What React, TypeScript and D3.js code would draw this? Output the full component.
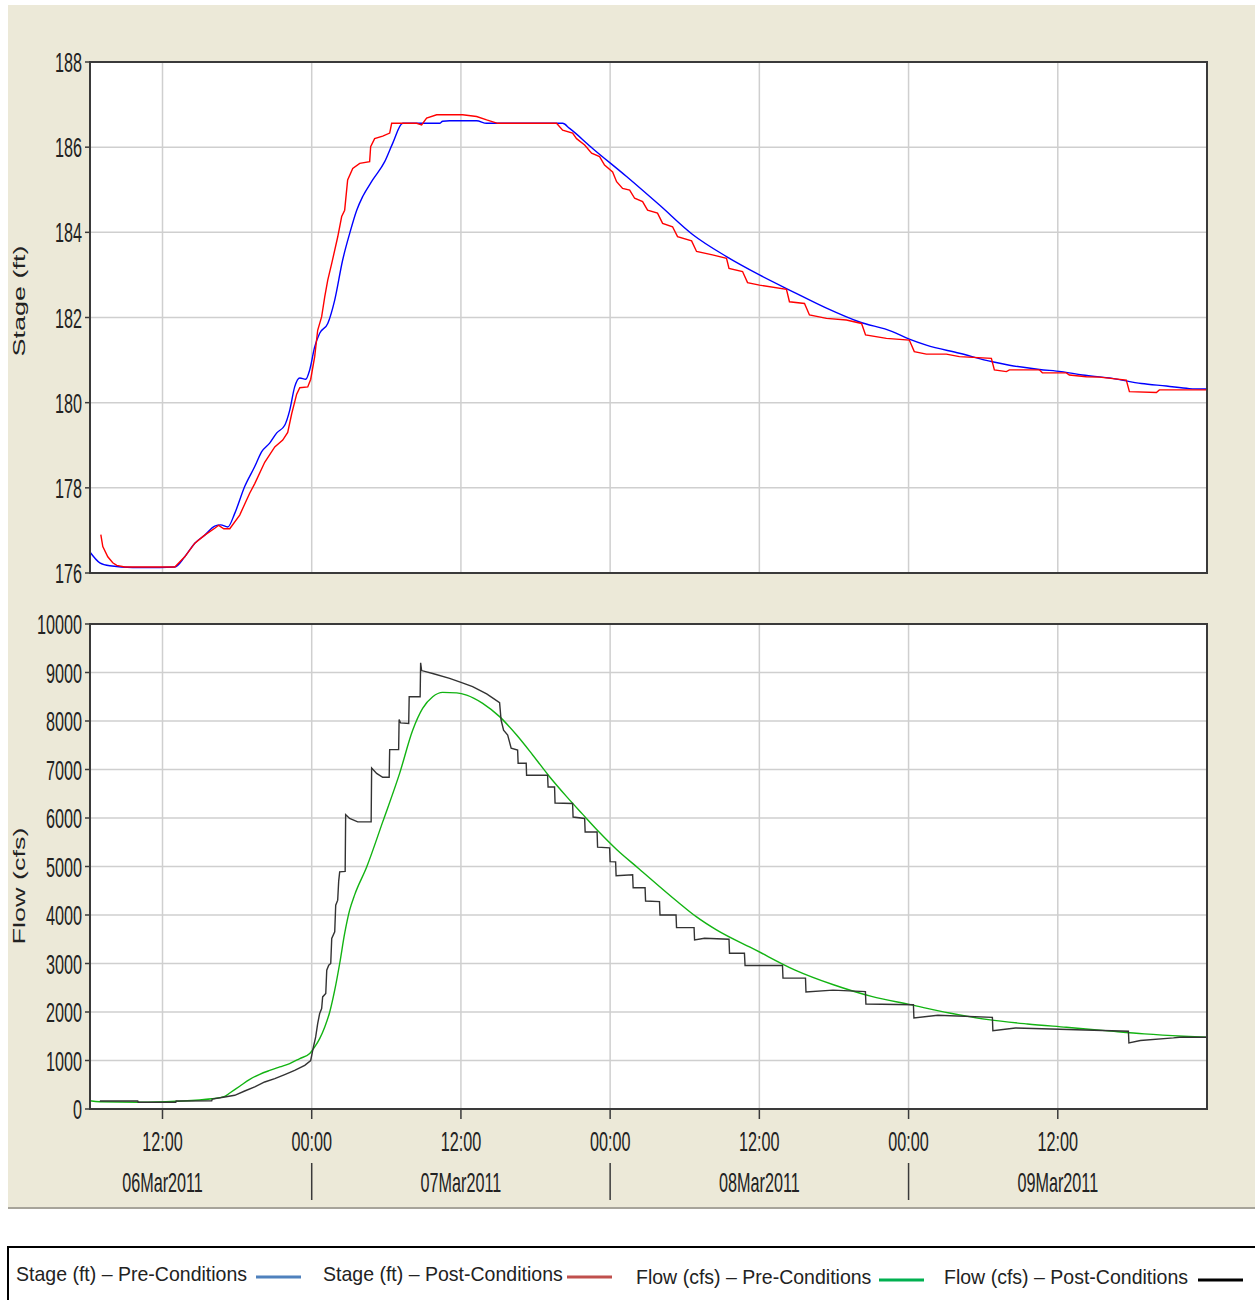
import React from 'react';
import * as d3 from 'd3';

// hours after 06Mar2011 00:00 -> value
const stagePre: [number, number][] = [
  [6.15, 176.5], [6.96, 176.24], [7.76, 176.17], [9.61, 176.13], [11.78, 176.13], [12.99, 176.14],
  [13.79, 176.38], [14.6, 176.7], [15.4, 176.89], [16.2, 177.1], [16.68, 177.13], [17.25, 177.08],
  [17.81, 177.4], [18.61, 178.03], [19.42, 178.5], [19.98, 178.85], [20.62, 179.05], [21.19, 179.29],
  [21.83, 179.47], [22.23, 179.82], [22.63, 180.37], [23.04, 180.58], [23.52, 180.55], [23.84, 180.77],
  [24.24, 181.31], [24.64, 181.63], [25.29, 181.86], [25.85, 182.41], [26.49, 183.35], [27.05, 183.97],
  [27.62, 184.52], [28.1, 184.84], [28.9, 185.23], [29.87, 185.66], [30.51, 186.09], [31.32, 186.56],
  [34.29, 186.56], [34.53, 186.61], [35.09, 186.62], [37.26, 186.62], [38.07, 186.56], [44.18, 186.56],
  [44.74, 186.44], [46.59, 185.97], [49.32, 185.31], [51.97, 184.64], [54.63, 183.95], [57.36, 183.43],
  [60.01, 183.0], [62.67, 182.61], [65.4, 182.22], [68.01, 181.9], [70.7, 181.67], [72.06, 181.49],
  [73.43, 181.35], [76.09, 181.16], [78.74, 180.96], [80.11, 180.88], [82.52, 180.78], [84.29, 180.73],
  [85.98, 180.65], [88.39, 180.57], [90.72, 180.45], [92.73, 180.39], [94.58, 180.33], [95.95, 180.32],
];

const stagePost: [number, number][] = [
  [7.04, 176.9], [7.2, 176.62], [7.6, 176.38], [8.0, 176.24], [8.32, 176.18], [8.97, 176.14],
  [12.99, 176.14], [13.79, 176.38], [14.6, 176.7], [15.4, 176.89], [16.2, 177.05], [16.52, 177.12],
  [16.93, 177.04], [17.41, 177.04], [18.21, 177.36], [19.02, 177.88], [19.42, 178.1], [20.22, 178.6],
  [21.03, 178.96], [21.67, 179.12], [22.07, 179.3], [22.39, 179.74], [22.79, 180.2], [23.04, 180.35],
  [23.68, 180.37], [23.92, 180.55], [24.24, 181.08], [24.48, 181.7], [24.8, 182.02], [25.05, 182.49],
  [25.29, 182.88], [25.61, 183.27], [26.09, 183.89], [26.41, 184.37], [26.65, 184.52], [26.89, 185.23],
  [27.3, 185.5], [27.86, 185.62], [28.66, 185.66], [28.74, 186.01], [29.06, 186.2], [29.71, 186.26],
  [30.27, 186.33], [30.43, 186.56], [32.44, 186.56], [32.84, 186.52], [33.24, 186.68], [34.05, 186.76],
  [36.14, 186.76], [37.26, 186.72], [38.07, 186.64], [38.95, 186.56], [43.69, 186.56], [44.18, 186.4],
  [44.98, 186.33], [45.3, 186.2], [45.95, 186.05], [46.51, 185.86], [47.15, 185.78], [47.55, 185.58],
  [48.2, 185.42], [48.52, 185.19], [49.0, 185.03], [49.57, 184.99], [49.97, 184.8], [50.61, 184.72],
  [51.01, 184.52], [51.81, 184.45], [52.22, 184.21], [53.02, 184.13], [53.42, 183.9], [54.55, 183.8],
  [54.95, 183.55], [56.23, 183.47], [57.36, 183.39], [57.56, 183.15], [58.65, 183.08], [59.05, 182.82],
  [60.01, 182.76], [62.18, 182.66], [62.42, 182.37], [63.63, 182.33], [64.03, 182.06], [65.4, 181.98],
  [67.0, 181.94], [68.22, 181.86], [68.54, 181.59], [70.22, 181.51], [72.06, 181.47], [72.46, 181.2],
  [73.43, 181.14], [75.04, 181.14], [76.09, 181.08], [78.66, 181.04], [78.9, 180.77], [79.87, 180.73],
  [80.11, 180.77], [82.52, 180.77], [82.76, 180.7], [84.69, 180.7], [84.93, 180.65], [86.3, 180.61],
  [87.35, 180.6], [89.51, 180.53], [89.76, 180.26], [91.93, 180.24], [92.17, 180.3], [95.95, 180.3],
];

const flowPre: [number, number][] = [
  [6.15, 170], [6.96, 150], [10.17, 140], [13.07, 160], [15.96, 210], [17.0, 260], [17.41, 330],
  [18.21, 470], [19.02, 610], [19.82, 715], [20.62, 795], [21.43, 867], [22.23, 937], [23.04, 1040],
  [23.84, 1143], [24.24, 1280], [24.64, 1452], [25.05, 1692], [25.45, 2001], [25.85, 2449], [26.25, 3000],
  [26.65, 3620], [27.05, 4100], [27.46, 4420], [28.42, 4990], [29.71, 5920], [31.07, 6920], [32.12, 7810],
  [32.92, 8260], [33.73, 8500], [34.53, 8590], [35.66, 8580], [36.46, 8535], [37.75, 8365], [39.11, 8090],
  [40.48, 7710], [41.77, 7300], [43.13, 6850], [44.5, 6440], [45.78, 6080], [47.15, 5700], [48.52, 5350],
  [50.29, 4960], [53.42, 4274], [54.95, 3960], [56.55, 3692], [59.68, 3281], [62.83, 2870], [65.96, 2562],
  [69.02, 2322], [72.15, 2151], [75.29, 1979], [78.42, 1842], [81.56, 1753], [84.69, 1685], [87.83, 1616],
  [90.96, 1548], [94.1, 1500], [95.95, 1479],
];

const flowPost: [number, number][] = [
  [6.96, 165], [10.01, 165], [10.05, 140], [13.07, 140], [13.1, 165], [15.96, 170], [16.0, 205],
  [17.0, 248], [17.81, 283], [18.61, 371], [19.42, 454], [20.22, 557], [21.03, 627], [21.83, 710],
  [22.63, 798], [23.44, 901], [23.92, 1000], [24.08, 1211], [24.32, 1486], [24.48, 1762], [24.64, 1968],
  [24.8, 2071], [24.88, 2311], [25.13, 2381], [25.21, 2862], [25.37, 2965], [25.53, 3000], [25.61, 3515],
  [25.85, 3652], [25.93, 4203], [26.09, 4306], [26.17, 4700], [26.25, 4890], [26.69, 4900], [26.73, 6070],
  [27.05, 5990], [27.7, 5920], [28.78, 5920], [28.82, 7030], [29.22, 6920], [29.71, 6840], [30.23, 6840],
  [30.27, 7410], [30.99, 7410], [31.03, 8030], [31.15, 7960], [31.8, 7950], [31.84, 8500], [32.72, 8500],
  [32.76, 9200], [32.84, 9040], [33.73, 8980], [35.09, 8880], [36.06, 8790], [36.94, 8710], [38.07, 8560],
  [39.11, 8380], [39.23, 8020], [39.43, 7810], [39.76, 7710], [40.04, 7440], [40.56, 7400], [40.6, 7130],
  [41.25, 7130], [41.28, 6880], [42.97, 6880], [43.01, 6640], [43.53, 6640], [43.57, 6310], [44.98, 6300],
  [45.02, 6020], [45.95, 5990], [45.99, 5710], [46.95, 5710], [46.99, 5400], [47.96, 5384], [48.0, 5100],
  [48.44, 5096], [48.48, 4808], [49.81, 4830], [49.85, 4562], [50.81, 4562], [50.85, 4288], [51.97, 4275],
  [52.01, 4000], [53.3, 4000], [53.34, 3740], [54.75, 3740], [54.79, 3486], [55.59, 3520], [57.56, 3500],
  [57.6, 3212], [58.8, 3212], [58.85, 2959], [61.86, 2959], [61.9, 2699], [63.71, 2699], [63.75, 2411],
  [65.92, 2452], [68.53, 2420], [68.57, 2164], [72.39, 2150], [72.43, 1877], [74.36, 1932], [78.74, 1890],
  [78.78, 1616], [80.59, 1671], [89.68, 1603], [89.72, 1363], [90.64, 1411], [93.3, 1466], [93.78, 1479],
  [95.95, 1479],
];

const stageTicks = [176, 178, 180, 182, 184, 186, 188];
const flowTicks = [0, 1000, 2000, 3000, 4000, 5000, 6000, 7000, 8000, 9000, 10000];
const timeTickHours = [12, 24, 36, 48, 60, 72, 84];
const dayLabelHours = [12, 36, 60, 84];
const daySepHours = [24, 48, 72];

const legendItems = [
  { label: 'Stage (ft) – Pre-Conditions', color: '#4f81bd', x: 16, lx: 256, y: 1281 },
  { label: 'Stage (ft) – Post-Conditions', color: '#c0504d', x: 323, lx: 567, y: 1281 },
  { label: 'Flow (cfs) – Pre-Conditions', color: '#00b050', x: 636, lx: 879, y: 1284 },
  { label: 'Flow (cfs) – Post-Conditions', color: '#000000', x: 944, lx: 1198, y: 1284 },
];

const base = new Date(2011, 2, 6, 0, 0).getTime();
const toDate = (h: number) => new Date(base + h * 3600e3);

const FONT = '"Liberation Sans", Arial, sans-serif';
const SX = 0.6;

const L = 90, R = 1207;
const top1 = 62, bot1 = 573;
const top2 = 624, bot2 = 1109;

const x = d3.scaleTime().domain([toDate(6.17), toDate(96)]).range([L, R]);
const yStage = d3.scaleLinear().domain([176, 188]).range([bot1, top1]);
const yFlow = d3.scaleLinear().domain([0, 10000]).range([bot2, top2]);

const lineGen = (y: d3.ScaleLinear<number, number>, smooth: boolean) =>
  d3.line<[number, number]>()
    .x(d => x(toDate(d[0])))
    .y(d => y(d[1]))
    .curve(smooth ? d3.curveMonotoneX : d3.curveLinear);

const fmtTime = d3.timeFormat('%H:%M');
const fmtDay = d3.timeFormat('%d%b%Y');

const Narrow = ({ x: tx, y: ty, anchor, children }: any) => (
  <text transform={`translate(${tx},${ty}) scale(${SX},1)`} textAnchor={anchor}
    fontFamily={FONT} fontSize={27} fill="#222">{children}</text>
);

const Panel = ({ y, ticks, top, bot, title, titleY, series }: any) => (
  <g>
    <rect x={L} y={top} width={R - L} height={bot - top} fill="#fff" />
    {ticks.map((t: number) => (
      <line key={'h' + t} x1={L} x2={R} y1={y(t)} y2={y(t)} stroke="#cfcfcf" strokeWidth={1.5} />
    ))}
    {timeTickHours.map(h => (
      <line key={'v' + h} x1={x(toDate(h))} x2={x(toDate(h))} y1={top} y2={bot} stroke="#cfcfcf" strokeWidth={1.5} />
    ))}
    {series.map((s: any, i: number) => (
      <path key={i} d={lineGen(y, s.smooth)(s.data) || ''} fill="none" stroke={s.color} strokeWidth={1.4} />
    ))}
    <rect x={L} y={top} width={R - L} height={bot - top} fill="none" stroke="#3a3a3a" strokeWidth={2} />
    {ticks.map((t: number) => (
      <g key={'t' + t}>
        <line x1={L - 5} x2={L} y1={y(t)} y2={y(t)} stroke="#3a3a3a" strokeWidth={1.5} />
        <Narrow x={82} y={y(t) + 10} anchor="end">{t}</Narrow>
      </g>
    ))}
    <text transform={`translate(25,${titleY}) rotate(-90) scale(1,0.58)`} textAnchor="middle"
      fontFamily={FONT} fontSize={27} fill="#222">{title}</text>
  </g>
);

export default function App() {
  return (
    <svg width={1255} height={1300} style={{ position: 'absolute', left: 0, top: 0, display: 'block' }}>
      <rect x={0} y={0} width={1255} height={1300} fill="#fff" />
      <rect x={8} y={5} width={1247} height={1203} fill="#ece9d8" />
      <line x1={8} x2={1255} y1={1208} y2={1208} stroke="#a7a49a" strokeWidth={2} />

      <Panel y={yStage} ticks={stageTicks} top={top1} bot={bot1} title="Stage (ft)" titleY={301}
        series={[{ data: stagePre, color: '#0000ff', smooth: true }, { data: stagePost, color: '#ff0000', smooth: false }]} />
      <Panel y={yFlow} ticks={flowTicks} top={top2} bot={bot2} title="Flow (cfs)" titleY={886}
        series={[{ data: flowPre, color: '#12b312', smooth: true }, { data: flowPost, color: '#333333', smooth: false }]} />

      {timeTickHours.map(h => (
        <g key={h}>
          <line x1={x(toDate(h))} x2={x(toDate(h))} y1={bot2} y2={bot2 + 10} stroke="#3a3a3a" strokeWidth={1.5} />
          <Narrow x={x(toDate(h))} y={1151} anchor="middle">{fmtTime(toDate(h))}</Narrow>
        </g>
      ))}
      {dayLabelHours.map(h => (
        <Narrow key={h} x={x(toDate(h))} y={1192} anchor="middle">{fmtDay(toDate(h))}</Narrow>
      ))}
      {daySepHours.map(h => (
        <line key={h} x1={x(toDate(h))} x2={x(toDate(h))} y1={1163} y2={1200} stroke="#3a3a3a" strokeWidth={1.5} />
      ))}

      <rect x={8} y={1247} width={1260} height={70} fill="#fff" stroke="#000" strokeWidth={2} />
      {legendItems.map(it => (
        <g key={it.label}>
          <text transform={`translate(${it.x},${it.y}) scale(0.93,1)`} fontFamily={FONT} fontSize={21} fill="#222">{it.label}</text>
          <line x1={it.lx} x2={it.lx + 45} y1={it.y - 4} y2={it.y - 4} stroke={it.color} strokeWidth={3} />
        </g>
      ))}
    </svg>
  );
}
